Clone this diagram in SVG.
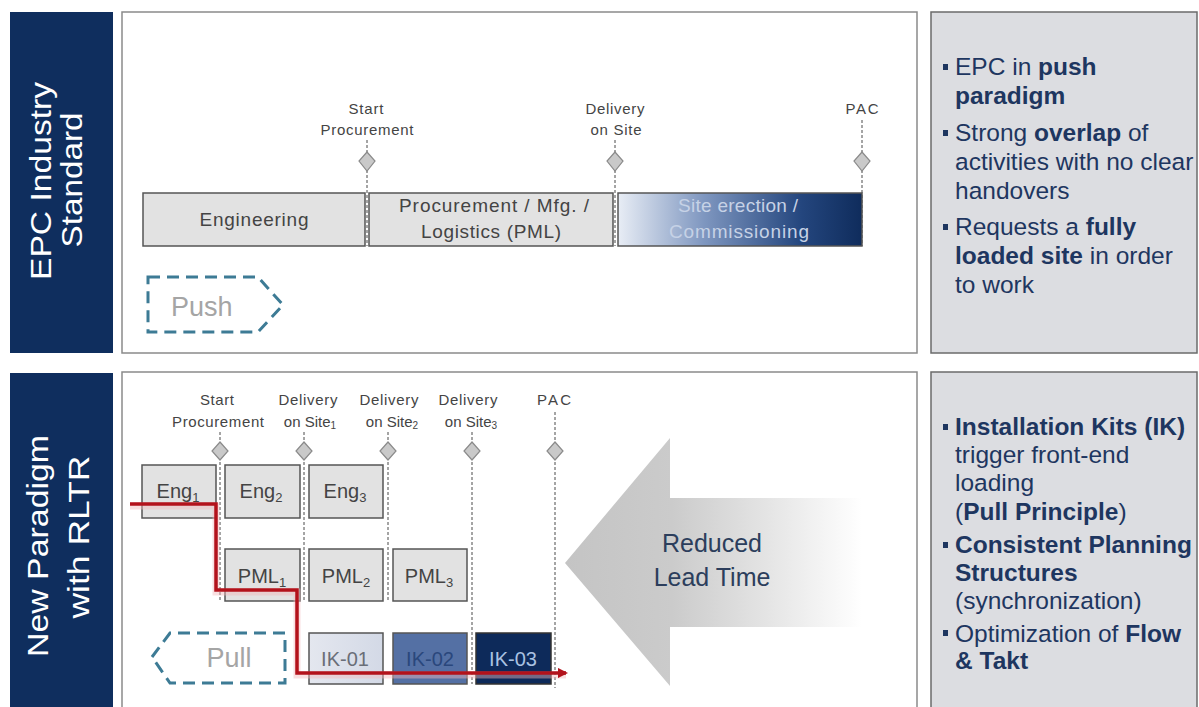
<svg xmlns="http://www.w3.org/2000/svg" width="1199" height="707" viewBox="0 0 1199 707">
  <defs>
    <linearGradient id="gradSite" x1="0" y1="0" x2="1" y2="0">
      <stop offset="0" stop-color="#e8edf5"/>
      <stop offset="0.35" stop-color="#7f97c0"/>
      <stop offset="0.75" stop-color="#24467e"/>
      <stop offset="1" stop-color="#0f2c5c"/>
    </linearGradient>
    <linearGradient id="gradIk1" x1="0" y1="0" x2="1" y2="0">
      <stop offset="0" stop-color="#e4e7ef"/>
      <stop offset="1" stop-color="#d3d9e6"/>
    </linearGradient>
    <linearGradient id="gradLead" gradientUnits="userSpaceOnUse" x1="565" y1="0" x2="862" y2="0">
      <stop offset="0" stop-color="#c4c4c4"/>
      <stop offset="0.36" stop-color="#cbcbcb"/>
      <stop offset="0.7" stop-color="#e6e6e6"/>
      <stop offset="1" stop-color="#ffffff"/>
    </linearGradient>
    <marker id="redHead" viewBox="0 0 10 10" refX="8" refY="5" markerWidth="3" markerHeight="3" orient="auto" markerUnits="strokeWidth">
      <path d="M0,0 L10,5 L0,10 Z" fill="#b3121b"/>
    </marker>
  </defs>
  <style>
    .side { fill: #0f2e5e; }
    .sideText { font-family: "Liberation Sans", Arial, sans-serif; font-size: 29px; fill: #ffffff; text-anchor: middle; }
    .panel { fill: #ffffff; stroke: #8a8a8a; stroke-width: 1.5; }
    .notes { fill: #dcdde1; stroke: #6b6b6b; stroke-width: 1.5; }
    .noteText { font-family: "Liberation Sans", Arial, sans-serif; font-size: 24.5px; fill: #1e3660; }
    .b { font-weight: bold; }
    .bullet { fill: #1e3660; }
    .box { fill: #e2e2e2; stroke: #555555; stroke-width: 1.5; }
    .boxText { font-family: "Liberation Sans", Arial, sans-serif; font-size: 19px; fill: #444444; text-anchor: middle; }
    .kitText { font-family: "Liberation Sans", Arial, sans-serif; font-size: 20px; text-anchor: middle; }
    .ms { font-family: "Liberation Sans", Arial, sans-serif; font-size: 15px; fill: #444444; text-anchor: middle; }
    .diamond { fill: #c9c9c9; stroke: #8a8a8a; stroke-width: 1.2; }
    .msLine { fill: none; stroke: #4a4a4a; stroke-width: 1; stroke-dasharray: 3 2; }
    .dashArrow { fill: none; stroke: #3d7b95; stroke-width: 3; stroke-dasharray: 12 7; }
    .dashText { font-family: "Liberation Sans", Arial, sans-serif; font-size: 27px; fill: #a5a5a5; }
    .flow { fill: none; stroke: #b3121b; stroke-width: 3.5; stroke-linejoin: miter; }
    .flowGlow { fill: none; stroke: #f2b9bb; stroke-width: 7; opacity: 0.45; }
    .leadText { font-family: "Liberation Sans", Arial, sans-serif; font-size: 25px; fill: #2c3e5c; text-anchor: middle; }
  </style>

  <rect width="1199" height="707" fill="#ffffff"/>

  <!-- Row headers -->
  <g id="header-epc">
    <rect class="side" x="10" y="12" width="103" height="341"/>
    <text class="sideText" transform="translate(51,181) rotate(-90)" textLength="198" lengthAdjust="spacingAndGlyphs">EPC Industry</text>
    <text class="sideText" transform="translate(82,180) rotate(-90)" textLength="135" lengthAdjust="spacingAndGlyphs">Standard</text>
  </g>
  <g id="header-rltr">
    <rect class="side" x="10" y="373" width="103" height="340"/>
    <text class="sideText" transform="translate(48,546) rotate(-90)" textLength="222" lengthAdjust="spacingAndGlyphs">New Paradigm</text>
    <text class="sideText" transform="translate(89,537) rotate(-90)" textLength="163" lengthAdjust="spacingAndGlyphs">with RLTR</text>
  </g>

  <!-- Main panels -->
  <g id="panel-epc">
    <rect class="panel" x="122" y="12" width="795" height="341"/>
  </g>
  <g id="panel-rltr">
    <rect class="panel" x="122" y="372" width="795" height="345"/>
  </g>

  <!-- Side notes -->
  <g id="notes-epc">
    <rect class="notes" x="931" y="12" width="266" height="341"/>
    <rect class="bullet" x="943" y="64" width="5" height="6"/>
    <rect class="bullet" x="943" y="130" width="5" height="6"/>
    <rect class="bullet" x="943" y="224" width="5" height="6"/>
    <text class="noteText" x="955" y="75">EPC in <tspan class="b">push</tspan></text>
    <text class="noteText" x="955" y="104"><tspan class="b">paradigm</tspan></text>
    <text class="noteText" x="955" y="141">Strong <tspan class="b">overlap</tspan> of</text>
    <text class="noteText" x="955" y="170">activities with no clear</text>
    <text class="noteText" x="955" y="199">handovers</text>
    <text class="noteText" x="955" y="235">Requests a <tspan class="b">fully</tspan></text>
    <text class="noteText" x="955" y="264"><tspan class="b">loaded site</tspan> in order</text>
    <text class="noteText" x="955" y="293">to work</text>
  </g>
  <g id="notes-rltr">
    <rect class="notes" x="931" y="372" width="266" height="345"/>
    <rect class="bullet" x="943" y="424" width="5" height="6"/>
    <rect class="bullet" x="943" y="542" width="5" height="6"/>
    <rect class="bullet" x="943" y="630" width="5" height="6"/>
    <text class="noteText" x="955" y="435"><tspan class="b">Installation Kits (IK)</tspan></text>
    <text class="noteText" x="955" y="463">trigger front-end</text>
    <text class="noteText" x="955" y="491">loading</text>
    <text class="noteText" x="955" y="520">(<tspan class="b">Pull Principle</tspan>)</text>
    <text class="noteText" x="955" y="553"><tspan class="b">Consistent Planning</tspan></text>
    <text class="noteText" x="955" y="581"><tspan class="b">Structures</tspan></text>
    <text class="noteText" x="955" y="609">(synchronization)</text>
    <text class="noteText" x="955" y="642">Optimization of <tspan class="b">Flow</tspan></text>
    <text class="noteText" x="955" y="669"><tspan class="b">&amp; Takt</tspan></text>
  </g>

  <!-- Reduced lead time arrow -->
  <g id="lead-time">
    <polygon points="565,563 670,438 670,498 862,498 862,627 670,627 670,686" fill="url(#gradLead)"/>
    <text class="leadText" x="712" y="552">Reduced</text>
    <text class="leadText" x="712" y="586">Lead Time</text>
  </g>

  <!-- Connectors: milestone guide lines and the pull flow -->
  <g id="connectors">
    <line class="msLine" x1="367" y1="140" x2="367" y2="246"/>
    <line class="msLine" x1="615" y1="140" x2="615" y2="246"/>
    <line class="msLine" x1="862" y1="120" x2="862" y2="246"/>
    <line class="msLine" x1="220" y1="432" x2="220" y2="600"/>
    <line class="msLine" x1="304" y1="432" x2="304" y2="600"/>
    <line class="msLine" x1="388" y1="432" x2="388" y2="600"/>
    <line class="msLine" x1="472" y1="432" x2="472" y2="684"/>
    <line class="msLine" x1="555" y1="412" x2="555" y2="688"/>
  </g>

  <!-- EPC phases -->
  <g id="phase-engineering">
    <rect class="box" x="143" y="193" width="222" height="53"/>
    <text class="boxText" x="254" y="226" textLength="109">Engineering</text>
  </g>
  <g id="phase-pml">
    <rect class="box" x="369" y="193" width="244" height="53"/>
    <text class="boxText" x="494" y="212" textLength="190">Procurement / Mfg. /</text>
    <text class="boxText" x="491" y="238" textLength="140">Logistics (PML)</text>
  </g>
  <g id="phase-site">
    <rect x="618" y="193" width="244" height="53" fill="url(#gradSite)" stroke="#555555" stroke-width="1.5"/>
    <text class="boxText" x="738" y="212" textLength="120" style="fill:#c6d2e6">Site erection /</text>
    <text class="boxText" x="739" y="238" textLength="140" style="fill:#c6d2e6">Commissioning</text>
  </g>

  <!-- EPC milestones -->
  <g id="ms-epc-start">
    <text class="ms" x="366" y="114" textLength="35">Start</text>
    <text class="ms" x="367" y="135" textLength="93">Procurement</text>
    <polygon class="diamond" points="367,152 375,161 367,171 359,161"/>
  </g>
  <g id="ms-epc-delivery">
    <text class="ms" x="615" y="114" textLength="59">Delivery</text>
    <text class="ms" x="616" y="135" textLength="51">on Site</text>
    <polygon class="diamond" points="615,152 623,161 615,171 607,161"/>
  </g>
  <g id="ms-epc-pac">
    <text class="ms" x="862" y="114" textLength="33">PAC</text>
    <polygon class="diamond" points="862,152 870,161 862,171 854,161"/>
  </g>

  <!-- Push indicator -->
  <g id="push">
    <polygon class="dashArrow" points="148,277 258,277 283,305 258,332 148,332"/>
    <text class="dashText" x="171" y="316">Push</text>
  </g>

  <!-- RLTR milestones -->
  <g id="ms-rltr-start">
    <text class="ms" x="217" y="405" textLength="34">Start</text>
    <text class="ms" x="218" y="427" textLength="92">Procurement</text>
    <polygon class="diamond" points="220,442 228,451 220,460 212,451"/>
  </g>
  <g id="ms-rltr-d1">
    <text class="ms" x="308" y="405" textLength="59">Delivery</text>
    <text class="ms" x="310" y="427">on Site<tspan font-size="10" dy="2">1</tspan></text>
    <polygon class="diamond" points="304,442 312,451 304,460 296,451"/>
  </g>
  <g id="ms-rltr-d2">
    <text class="ms" x="389" y="405" textLength="59">Delivery</text>
    <text class="ms" x="392" y="427">on Site<tspan font-size="10" dy="2">2</tspan></text>
    <polygon class="diamond" points="388,442 396,451 388,460 380,451"/>
  </g>
  <g id="ms-rltr-d3">
    <text class="ms" x="468" y="405" textLength="59">Delivery</text>
    <text class="ms" x="471" y="427">on Site<tspan font-size="10" dy="2">3</tspan></text>
    <polygon class="diamond" points="472,442 480,451 472,460 464,451"/>
  </g>
  <g id="ms-rltr-pac">
    <text class="ms" x="554" y="405" textLength="34">PAC</text>
    <polygon class="diamond" points="555,442 563,451 555,460 547,451"/>
  </g>

  <!-- Engineering packages -->
  <g id="eng-1">
    <rect class="box" x="142" y="465" width="74" height="53"/>
    <text class="boxText" x="178" y="498" style="font-size:20px">Eng<tspan font-size="13" dy="4">1</tspan></text>
  </g>
  <g id="eng-2">
    <rect class="box" x="225" y="465" width="75" height="53"/>
    <text class="boxText" x="261" y="498" style="font-size:20px">Eng<tspan font-size="13" dy="4">2</tspan></text>
  </g>
  <g id="eng-3">
    <rect class="box" x="309" y="465" width="74" height="53"/>
    <text class="boxText" x="345" y="498" style="font-size:20px">Eng<tspan font-size="13" dy="4">3</tspan></text>
  </g>

  <!-- PML packages -->
  <g id="pml-1">
    <rect class="box" x="225" y="549" width="75" height="52"/>
    <text class="boxText" x="262" y="583" style="font-size:20px">PML<tspan font-size="13" dy="4">1</tspan></text>
  </g>
  <g id="pml-2">
    <rect class="box" x="309" y="549" width="74" height="52"/>
    <text class="boxText" x="346" y="583" style="font-size:20px">PML<tspan font-size="13" dy="4">2</tspan></text>
  </g>
  <g id="pml-3">
    <rect class="box" x="393" y="549" width="74" height="52"/>
    <text class="boxText" x="429" y="583" style="font-size:20px">PML<tspan font-size="13" dy="4">3</tspan></text>
  </g>

  <!-- Installation kits -->
  <g id="ik-01">
    <rect x="309" y="633" width="74" height="51" fill="url(#gradIk1)" stroke="#555555" stroke-width="1.5"/>
    <text class="kitText" x="345" y="666" fill="#6a6e78">IK-01</text>
  </g>
  <g id="ik-02">
    <rect x="393" y="633" width="74" height="51" fill="#5470a4" stroke="#555555" stroke-width="1.5"/>
    <text class="kitText" x="430" y="666" fill="#2a477c">IK-02</text>
  </g>
  <g id="ik-03">
    <rect x="476" y="633" width="75" height="51" fill="#0d2a5a" stroke="#333333" stroke-width="1.5"/>
    <text class="kitText" x="513" y="666" fill="#a9c2e2">IK-03</text>
  </g>

  <!-- Pull indicator -->
  <g id="pull">
    <polygon class="dashArrow" points="152,657 170,633 285,633 285,683 170,683"/>
    <text class="dashText" x="229" y="667" text-anchor="middle">Pull</text>
  </g>

  <!-- Pull flow through the packages -->
  <g id="flow">
    <polyline class="flowGlow" points="130,506 216,506 216,592 297,592 297,675 566,675"/>
    <polyline class="flow" points="130,504 216,504 216,590 297,590 297,673 566,673" marker-end="url(#redHead)"/>
  </g>
</svg>
